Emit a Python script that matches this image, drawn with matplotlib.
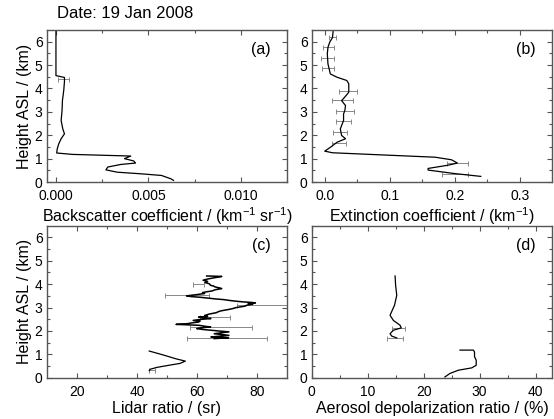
import matplotlib
matplotlib.use("Agg")
import matplotlib.pyplot as plt
import numpy as np

plt.rcParams['font.family'] = ['Liberation Sans', 'DejaVu Sans']

# ---------------- data ----------------
# (a) backscatter coefficient (km^-1 sr^-1) vs height (km)
bsc_h = [6.5, 4.55, 4.47, 4.3, 4.2, 3.91, 3.48, 3.06, 2.63, 2.27, 2.06, 1.85, 1.63, 1.42, 1.24,
         1.18, 1.11, 1.0, 0.9, 0.81, 0.75, 0.64, 0.52, 0.42, 0.35, 0.28, 0.14, 0.07]
bsc_v = [0.0, 0.0, 0.00046, 0.00046, 0.00045, 0.00042, 0.00035, 0.00033, 0.00028, 0.00037, 0.00046,
         0.00028, 0.00015, 0.00007, 0.00004, 0.0009, 0.00404, 0.0037, 0.0042, 0.0043, 0.0035,
         0.0028, 0.0027, 0.0033, 0.0046, 0.0057, 0.0062, 0.00635]
bsc_err_h = [4.42]
bsc_err_v = [0.0004]
bsc_err_e = [0.0003]

# (b) extinction coefficient (km^-1)
ext_h = [6.47, 6.18, 5.97, 5.76, 5.48, 5.05, 4.62, 4.48, 4.34, 4.2, 3.84, 3.7, 3.48, 3.27, 3.06,
         2.91, 2.63, 2.27, 1.99, 1.85, 1.7, 1.49, 1.32, 1.25, 1.06, 0.95, 0.81, 0.72, 0.58, 0.51,
         0.36, 0.24]
ext_v = [0.013, 0.012, 0.0076, 0.005, 0.004, 0.005, 0.0087, 0.019, 0.034, 0.037, 0.037, 0.033,
         0.026, 0.032, 0.031, 0.029, 0.029, 0.024, 0.026, 0.032, 0.019, 0.009, 0.0, 0.012, 0.17,
         0.195, 0.204, 0.19, 0.159, 0.159, 0.2, 0.24]
ext_err_h = [6.2, 5.76, 5.32, 4.87, 3.91, 3.52, 3.05, 2.6, 2.13, 1.68, 0.81, 0.36]
ext_err_v = [0.012, 0.006, 0.004, 0.005, 0.036, 0.027, 0.031, 0.029, 0.024, 0.022, 0.204, 0.2]
ext_err_e = [0.005, 0.008, 0.01, 0.009, 0.014, 0.016, 0.014, 0.011, 0.011, 0.011, 0.016, 0.02]

# (c) lidar ratio (sr)
lr1_h = [1.14, 0.97, 0.8, 0.71, 0.61, 0.54, 0.44, 0.36, 0.3]
lr1_v = [44.1, 48.8, 53.2, 56.1, 54.3, 51.0, 46.6, 44.4, 44.1]
lr2_h = [4.35, 4.34, 4.33, 4.28, 4.22, 4.17, 4.12, 4.07, 4.02, 3.95, 3.92, 3.88, 3.84, 3.81,
         3.76, 3.71, 3.67, 3.64, 3.60, 3.55, 3.50, 3.47, 3.44, 3.41, 3.37, 3.34, 3.30, 3.27,
         3.24, 3.22, 3.20, 3.17, 3.14, 3.10, 3.06, 3.00, 2.96, 2.92, 2.86, 2.82, 2.78, 2.72,
         2.66, 2.62, 2.59, 2.56, 2.53, 2.49, 2.45, 2.42, 2.38, 2.34, 2.31, 2.28, 2.26, 2.24,
         2.20, 2.17, 2.13, 2.10, 2.06, 2.03, 2.00, 1.96, 1.92, 1.88, 1.85, 1.81, 1.77, 1.74,
         1.71, 1.67]
lr2_v = [63.2, 66.0, 68.2, 66.0, 63.5, 62.0, 63.5, 62.6, 64.0, 64.5, 65.5, 66.0, 67.5, 68.2,
         66.0, 65.0, 63.0, 61.8, 62.5, 59.7, 56.5, 58.0, 61.0, 63.2, 66.0, 68.8, 71.0, 73.0,
         75.5, 78.0, 79.4, 77.0, 78.5, 76.5, 76.0, 73.0, 72.0, 70.6, 68.0, 67.0, 66.4, 64.0,
         62.5, 63.5, 60.5, 62.0, 64.6, 61.0, 58.7, 61.0, 60.5, 58.0, 56.8, 53.0, 57.0, 60.7,
         62.5, 64.5, 61.0, 59.9, 62.0, 64.6, 67.0, 70.6, 68.0, 65.7, 68.0, 70.6, 67.0, 64.6,
         70.5, 65.7]
lr_err_h = [4.0, 3.52, 3.12, 2.6, 2.17, 1.7, 0.35]
lr_err_v = [60.4, 56.6, 81.5, 66.0, 67.9, 69.9, 45.0]
lr_err_e = [1.9, 7.2, 8.3, 5.0, 10.3, 13.3, 1.0]

# (d) aerosol depolarization ratio (%)
dp1_h = [1.18, 1.18, 1.1, 0.9, 0.75, 0.53, 0.42, 0.32, 0.18, 0.03]
dp1_v = [26.5, 28.9, 29.1, 29.1, 29.4, 29.4, 28.6, 26.2, 24.7, 23.8]
dp2_h = [4.35, 3.95, 3.52, 3.1, 2.67, 2.45, 2.24, 2.13, 2.03, 1.88, 1.78, 1.7]
dp2_v = [14.9, 15.0, 15.2, 14.8, 14.0, 14.6, 15.8, 16.0, 14.6, 14.0, 14.3, 15.2]
dp_err_h = [2.13, 1.7]
dp_err_v = [15.5, 14.9]
dp_err_e = [1.2, 1.5]

# ---------------- figure ----------------
W, H = 554, 419
fig = plt.figure(figsize=(W / 100, H / 100), dpi=100)

def rect(x0, y0, x1, y1):
    return [x0 / W, 1 - y1 / H, (x1 - x0) / W, (y1 - y0) / H]

ax_a = fig.add_axes(rect(46.7, 30, 287.3, 182))
ax_b = fig.add_axes(rect(311.7, 30, 552.3, 182))
ax_c = fig.add_axes(rect(46.7, 225.7, 287.3, 377.7))
ax_d = fig.add_axes(rect(311.7, 225.7, 552.3, 377.7))

frame_col = '#555555'
errcol = '#888888'
TICK_FS = 10
LAB_FS = 11.5

def style(ax, xlim, xmajor, xminor, xfmt, label, tag):
    ax.set_xlim(*xlim)
    ax.set_ylim(0, 6.5)
    ax.set_xticks(xmajor)
    ax.set_xticks(xminor, minor=True)
    ax.set_xticklabels([xfmt.format(v) for v in xmajor])
    ax.set_yticks(range(0, 7))
    ax.set_yticks(np.arange(0.5, 6.5, 1.0), minor=True)
    ax.tick_params(which='both', direction='in', top=True, right=True,
                   color=frame_col, labelsize=TICK_FS, width=0.8)
    ax.tick_params(which='major', length=3.5)
    ax.tick_params(axis='x', which='major', pad=5)
    ax.tick_params(axis='y', which='major', pad=3)
    ax.tick_params(which='minor', length=2)
    for s in ax.spines.values():
        s.set_color(frame_col)
        s.set_linewidth(1.0)
    ax.set_xlabel(label, fontsize=LAB_FS, labelpad=2)
    ax.text(0.93, 0.87, tag, transform=ax.transAxes, fontsize=LAB_FS,
            ha='right', va='center')

ekw = dict(fmt='none', ecolor=errcol, elinewidth=0.7, capsize=1.8, capthick=0.7)

# (a)
ax_a.errorbar(bsc_err_v, bsc_err_h, xerr=bsc_err_e, **ekw)
ax_a.plot(bsc_v, bsc_h, color='black', lw=0.9)
style(ax_a, (-0.0005, 0.0125), [0.0, 0.005, 0.010], [0.0025, 0.0075, 0.0125], '{:.3f}',
      r'Backscatter coefficient / (km$^{\mathregular{-1}}$ sr$^{\mathregular{-1}}$)', '(a)')
ax_a.set_ylabel('Height ASL / (km)', fontsize=LAB_FS, labelpad=2)

# (b)
ax_b.errorbar(ext_err_v, ext_err_h, xerr=ext_err_e, **ekw)
ax_b.plot(ext_v, ext_h, color='black', lw=0.9)
style(ax_b, (-0.02, 0.35), [0.0, 0.1, 0.2, 0.3], [0.05, 0.15, 0.25], '{:.1f}',
      r'Extinction coefficient / (km$^{\mathregular{-1}}$)', '(b)')

# (c)
ax_c.errorbar(lr_err_v, lr_err_h, xerr=lr_err_e, **ekw)
ax_c.plot(lr1_v, lr1_h, color='black', lw=0.9)
ax_c.plot(lr2_v, lr2_h, color='black', lw=1.1)
style(ax_c, (10, 90), [20, 40, 60, 80], [30, 50, 70], '{:d}',
      'Lidar ratio / (sr)', '(c)')
ax_c.set_ylabel('Height ASL / (km)', fontsize=LAB_FS, labelpad=2)

# (d)
ax_d.errorbar(dp_err_v, dp_err_h, xerr=dp_err_e, **ekw)
ax_d.plot(dp1_v, dp1_h, color='black', lw=0.9)
ax_d.plot(dp2_v, dp2_h, color='black', lw=0.9)
style(ax_d, (0, 43), [0, 10, 20, 30, 40], [5, 15, 25, 35], '{:d}',
      'Aerosol depolarization ratio / (%)', '(d)')

fig.text(57 / W, 1 - 14 / H, 'Date: 19 Jan 2008', fontsize=12, ha='left', va='center')

fig.savefig('out.png', dpi=100)
